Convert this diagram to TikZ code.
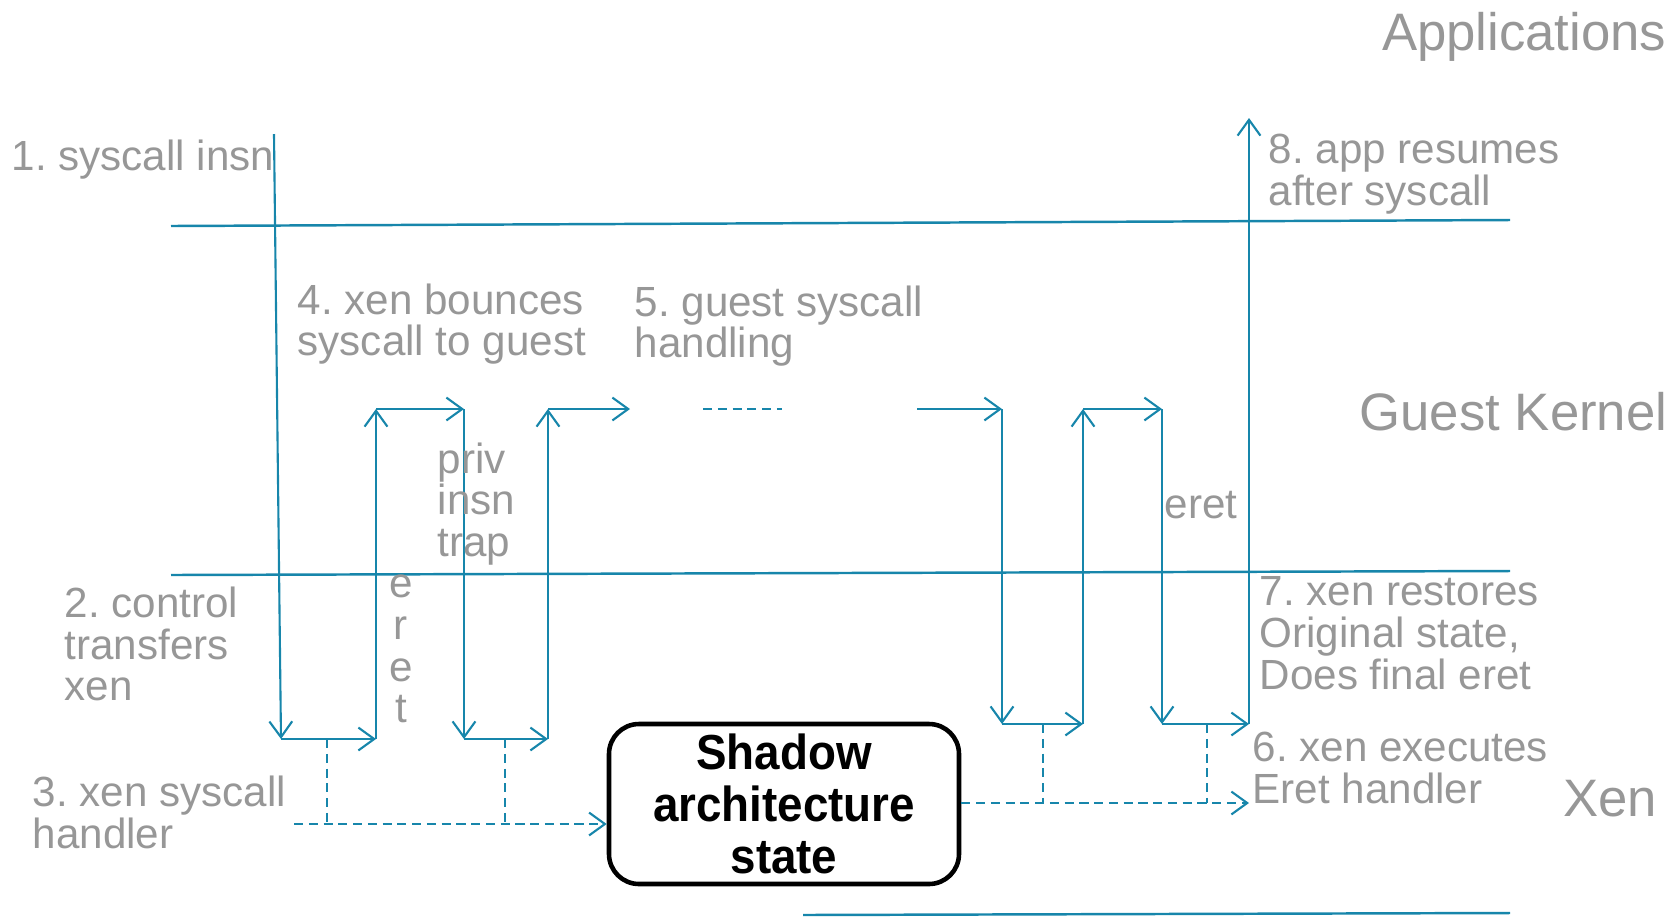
\documentclass[tikz,border=0pt]{standalone}
\usepackage{fontspec}
\setmainfont{Liberation Sans}
\newfontfamily\shadowfont[FakeStretch=0.93]{Liberation Sans Bold}
\usetikzlibrary{arrows.meta}
\definecolor{XTeal}{HTML}{1786AB}
\definecolor{XGray}{HTML}{979797}
\frenchspacing
\tikzset{
  flow/.style={XTeal,line width=0.6pt,-{Straight Barb[length=4.5pt,width=6.5pt]}},
  save/.style={XTeal,line width=0.6pt,dash pattern=on 2.6pt off 1.6pt},
  lvl/.style={XTeal,line width=0.7pt},
  note/.style={anchor=west,align=left,text=XGray,inner sep=0pt,font=\fontsize{12}{11.9}\selectfont},
  layer/.style={anchor=east,text=XGray,inner sep=0pt,font=\fontsize{15}{18}\selectfont},
  shadowbox/.style={draw=black,line width=1.3pt,rounded corners=0.3cm,align=center,
    minimum width=3.5cm,minimum height=1.6cm,inner sep=0pt,font=\shadowfont\fontsize{14}{14.9}\selectfont}
}
\begin{document}
\begin{tikzpicture}[x=1cm,y=1cm]
\path[use as bounding box] (0,-9.17) rectangle (16.79,0);
% privilege levels
\coordinate (appL) at (1.71,-2.26);
\coordinate (appR) at (15.10,-2.20);
\coordinate (kerL) at (1.71,-5.75);
\coordinate (kerR) at (15.10,-5.71);
\coordinate (xenL) at (8.03,-9.15);
\coordinate (xenR) at (15.10,-9.13);
\draw[lvl] (appL) -- (appR);
\draw[lvl] (kerL) -- (kerR);
\draw[lvl] (xenL) -- (xenR);
\node[layer] (apps) at (16.67,-0.37) {Applications};
\node[layer] (gk) at (16.68,-4.12) {Guest Kernel};
\node[layer] (xen) at (16.58,-7.99) {Xen};
% syscall path, first half
\coordinate (a0) at (2.74,-1.34);
\coordinate (a1) at (2.81,-7.39);
\coordinate (a2) at (3.76,-7.39);
\coordinate (a3) at (3.76,-4.09);
\coordinate (a4) at (4.64,-4.09);
\coordinate (a5) at (4.64,-7.39);
\coordinate (a6) at (5.48,-7.39);
\coordinate (a7) at (5.48,-4.09);
\coordinate (a8) at (6.30,-4.09);
\draw[flow] (a0) -- (a1);
\draw[flow] (a1) -- (a2);
\draw[flow] (a2) -- (a3);
\draw[flow] (a3) -- (a4);
\draw[flow] (a4) -- (a5);
\draw[flow] (a5) -- (a6);
\draw[flow] (a6) -- (a7);
\draw[flow] (a7) -- (a8);
\coordinate (g0) at (7.03,-4.09);
\coordinate (g1) at (7.82,-4.09);
\draw[save] (g0) -- (g1);
% second half
\coordinate (b0) at (9.17,-4.09);
\coordinate (b1) at (10.02,-4.09);
\coordinate (b2) at (10.02,-7.24);
\coordinate (b3) at (10.83,-7.24);
\coordinate (b4) at (10.83,-4.09);
\coordinate (b5) at (11.62,-4.09);
\coordinate (b6) at (11.62,-7.24);
\coordinate (b7) at (12.49,-7.24);
\coordinate (b8) at (12.49,-1.18);
\draw[flow] (b0) -- (b1);
\draw[flow] (b1) -- (b2);
\draw[flow] (b2) -- (b3);
\draw[flow] (b3) -- (b4);
\draw[flow] (b4) -- (b5);
\draw[flow] (b5) -- (b6);
\draw[flow] (b6) -- (b7);
\draw[flow] (b7) -- (b8);
% shadow state
\node[shadowbox] (shadow) at (7.84,-8.04) {Shadow\\architecture\\state};
\coordinate (d0) at (2.94,-8.24);
\coordinate (s1) at (3.27,-7.39);
\coordinate (s2) at (5.05,-7.39);
\draw[save] (s1) -- (s1 |- d0);
\draw[save] (s2) -- (s2 |- d0);
\draw[save,-{Straight Barb[length=4.5pt,width=6.5pt]}] (d0) -- (d0 -| shadow.west);
\coordinate (r0) at (12.49,-8.03);
\coordinate (s3) at (10.43,-7.24);
\coordinate (s4) at (12.07,-7.24);
\draw[save] (s3) -- (s3 |- r0);
\draw[save] (s4) -- (s4 |- r0);
\draw[save,-{Straight Barb[length=4.5pt,width=6.5pt]}] (shadow.east |- r0) -- (r0);
% labels
\node[note] (n1) at (0.11,-1.60) {1. syscall insn};
\node[note] (n2) at (0.64,-6.44) {2. control\\transfers\\xen};
\node[note] (n3) at (0.32,-8.12) {3. xen syscall\\handler};
\node[note] (n4) at (2.97,-3.24) {4. xen bounces\\syscall to guest};
\node[note] (n5) at (6.34,-3.26) {5. guest syscall\\handling};
\node[note] (n6) at (12.52,-7.68) {6. xen executes\\Eret handler};
\node[note] (n7) at (12.59,-6.33) {7. xen restores\\Original state,\\Does final eret};
\node[note] (n8) at (12.68,-1.74) {8. app resumes\\after syscall};
\node[note] (trap) at (4.37,-5.04) {priv\\insn\\trap};
\node[note,anchor=center,align=center] (eretA) at (4.01,-6.49) {e\\r\\e\\t};
\node[note] (eretB) at (11.64,-5.05) {eret};
\end{tikzpicture}
\end{document}
